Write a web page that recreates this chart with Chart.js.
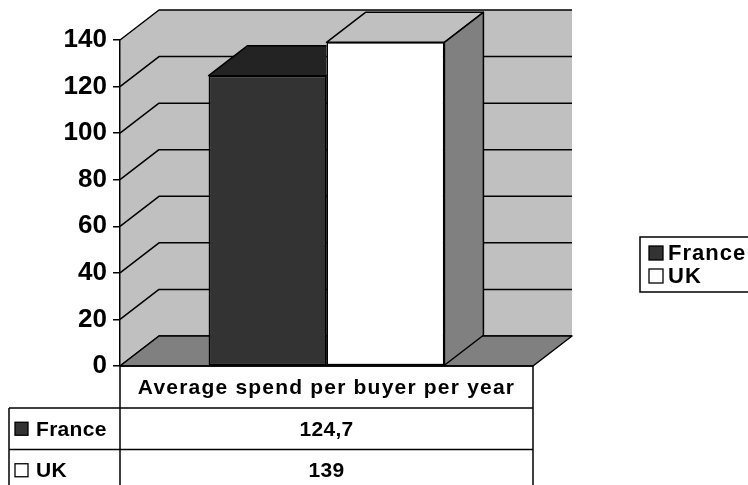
<!DOCTYPE html>
<html>
<head>
<meta charset="utf-8">
<script src="https://cdn.jsdelivr.net/npm/chart.js@4/dist/chart.umd.min.js"></script>
<style>
  html, body { margin: 0; padding: 0; background: #fff; }
  #wrap { width: 748px; height: 485px; position: relative; }
</style>
</head>
<body>
<div id="wrap"><canvas id="spendChart"></canvas></div>
<script>
const categories = ['Average spend per buyer per year'];
const seriesNames = ['France', 'UK'];
const franceSpend = [124.7];
const ukSpend = [139];
const yMin = 0, yMax = 140, yStep = 20;

const frontColors = ['#333333', '#ffffff'];
const topColors = ['#232323', '#c0c0c0'];
const sideColors = ['#1a1a1a', '#808080'];

const FONT = "'Liberation Sans', Arial, sans-serif";
const depth = { dx: 39, dy: -30 };

function poly(ctx, pts, fill, stroke) {
    ctx.beginPath();
    ctx.moveTo(pts[0][0], pts[0][1]);
    for (let i = 1; i < pts.length; i++) ctx.lineTo(pts[i][0], pts[i][1]);
    ctx.closePath();
    if (fill) { ctx.fillStyle = fill; ctx.fill(); }
    if (stroke) ctx.stroke();
}

// back wall, side wall, floor and the gridlines that run over them
const wallsPlugin = {
    id: 'walls',
    beforeDraw(chart) {
        const { ctx, chartArea: a, scales: { y } } = chart;
        const { dx, dy } = depth;
        ctx.save();
        ctx.lineWidth = 1.5;
        ctx.strokeStyle = '#000';
        ctx.lineJoin = 'round';
        ctx.fillStyle = '#c0c0c0';
        ctx.fillRect(a.left + dx, a.top + dy, a.right - a.left, a.bottom - a.top);
        poly(ctx, [[a.left, a.top], [a.left + dx, a.top + dy], [a.left + dx, a.bottom + dy], [a.left, a.bottom]], '#c0c0c0', false);
        y.ticks.forEach(t => {
            const py = y.getPixelForValue(t.value);
            ctx.beginPath();
            ctx.moveTo(a.left, py);
            ctx.lineTo(a.left + dx, py + dy);
            ctx.lineTo(a.right + dx, py + dy);
            ctx.stroke();
        });
        poly(ctx, [[a.left, a.bottom], [a.right, a.bottom], [a.right + dx, a.bottom + dy], [a.left + dx, a.bottom + dy]], '#808080', true);
        ctx.restore();
    }
};

// top and side faces of the columns
const columnsPlugin = {
    id: 'columns3d',
    afterDatasetsDraw(chart) {
        const { ctx } = chart;
        const { dx, dy } = depth;
        const bars = chart.getSortedVisibleDatasetMetas().map(m => m.data[0]);
        ctx.save();
        ctx.lineWidth = 1.5;
        ctx.strokeStyle = '#000';
        ctx.lineJoin = 'round';
        bars.forEach((bar, i) => {
            const x0 = bar.x - bar.width / 2, x1 = bar.x + bar.width / 2;
            const yt = bar.y, yb = bar.base;
            ctx.save();
            const next = bars[i + 1];
            if (next) {
                // the next column's front face hides whatever is behind it
                ctx.beginPath();
                ctx.rect(0, 0, chart.width, chart.height);
                ctx.rect(next.x - next.width / 2, next.y, next.width, next.base - next.y);
                ctx.clip('evenodd');
            }
            poly(ctx, [[x0, yt], [x1, yt], [x1 + dx, yt + dy], [x0 + dx, yt + dy]], topColors[i], true);
            poly(ctx, [[x1, yt], [x1 + dx, yt + dy], [x1 + dx, yb + dy], [x1, yb]], sideColors[i], true);
            ctx.restore();
        });
        ctx.restore();
    }
};

function formatValue(v) {
    return String(v).replace('.', ',');
}

function swatch(ctx, x, cy, size, color) {
    ctx.fillStyle = color;
    ctx.fillRect(x, cy - size / 2, size, size);
    ctx.lineWidth = 1.3;
    ctx.strokeRect(x, cy - size / 2, size, size);
    ctx.fillStyle = '#000';
}

// data table under the plot and legend on the right
const tablePlugin = {
    id: 'dataTable',
    afterDraw(chart) {
        const { ctx, chartArea: a } = chart;
        const seriesValues = [franceSpend, ukSpend];
        const headH = 42, rowH = 41.5, leftX = 9;
        const top = a.bottom, r1 = top + headH;
        ctx.save();
        ctx.lineWidth = 1.5;
        ctx.strokeStyle = '#000';
        ctx.beginPath();
        ctx.moveTo(a.left, top); ctx.lineTo(a.right, top);
        for (let i = 0; i <= seriesNames.length; i++) {
            const yy = r1 + i * rowH;
            ctx.moveTo(leftX, yy); ctx.lineTo(a.right, yy);
        }
        const bottom = r1 + seriesNames.length * rowH;
        ctx.moveTo(leftX, r1); ctx.lineTo(leftX, bottom);
        ctx.moveTo(a.left, top); ctx.lineTo(a.left, bottom);
        ctx.moveTo(a.right, top); ctx.lineTo(a.right, bottom);
        ctx.stroke();

        ctx.fillStyle = '#000';
        ctx.textBaseline = 'middle';
        ctx.textAlign = 'center';
        ctx.font = 'bold 21px ' + FONT;
        ctx.letterSpacing = '1.2px';
        const cw = (a.right - a.left) / categories.length;
        categories.forEach((c, j) => ctx.fillText(c, a.left + cw * (j + 0.5), top + headH / 2 + 1));

        ctx.letterSpacing = '0.3px';
        seriesNames.forEach((name, i) => {
            const cy = r1 + rowH * (i + 0.5);
            swatch(ctx, leftX + 6, cy, 13, frontColors[i]);
            ctx.textAlign = 'left';
            ctx.fillText(name, leftX + 27, cy + 1);
            ctx.textAlign = 'center';
            seriesValues[i].forEach((v, j) => ctx.fillText(formatValue(v), a.left + cw * (j + 0.5), cy + 1));
        });

        // legend box runs off the right edge
        const lx = 640, ly = 237, lh = 55;
        ctx.lineWidth = 1.5;
        ctx.beginPath();
        ctx.moveTo(chart.width + 5, ly);
        ctx.lineTo(lx, ly);
        ctx.lineTo(lx, ly + lh);
        ctx.lineTo(chart.width + 5, ly + lh);
        ctx.stroke();
        ctx.font = 'bold 22px ' + FONT;
        ctx.letterSpacing = '1px';
        ctx.textAlign = 'left';
        seriesNames.forEach((name, i) => {
            const cy = ly + 16 + i * 23;
            swatch(ctx, lx + 9, cy, 14, frontColors[i]);
            ctx.fillText(name, lx + 28, cy + 1);
        });
        ctx.restore();
    }
};

new Chart(document.getElementById('spendChart'), {
    type: 'bar',
    data: {
        labels: categories,
        datasets: [
            { label: seriesNames[0], data: franceSpend, backgroundColor: frontColors[0] },
            { label: seriesNames[1], data: ukSpend, backgroundColor: frontColors[1] }
        ]
    },
    options: {
        responsive: true,
        maintainAspectRatio: false,
        animation: false,
        layout: { padding: { left: 0, top: 40, right: 215, bottom: 119 } },
        datasets: {
            bar: {
                borderColor: '#000',
                borderWidth: 1.5,
                borderSkipped: false,
                barPercentage: 1,
                categoryPercentage: 0.571
            }
        },
        plugins: {
            legend: { display: false },
            tooltip: { enabled: false }
        },
        scales: {
            x: { display: false },
            y: {
                min: yMin,
                max: yMax,
                ticks: {
                    stepSize: yStep,
                    color: '#000',
                    padding: 6,
                    font: { family: FONT, size: 26, weight: 'bold' }
                },
                grid: { drawOnChartArea: false, drawTicks: true, tickLength: 7, color: '#000', lineWidth: 1.5 },
                border: { display: true, color: '#000', width: 1.5 },
                afterFit(scale) { scale.width = 120; }
            }
        }
    },
    plugins: [wallsPlugin, columnsPlugin, tablePlugin]
});
</script>
</body>
</html>
